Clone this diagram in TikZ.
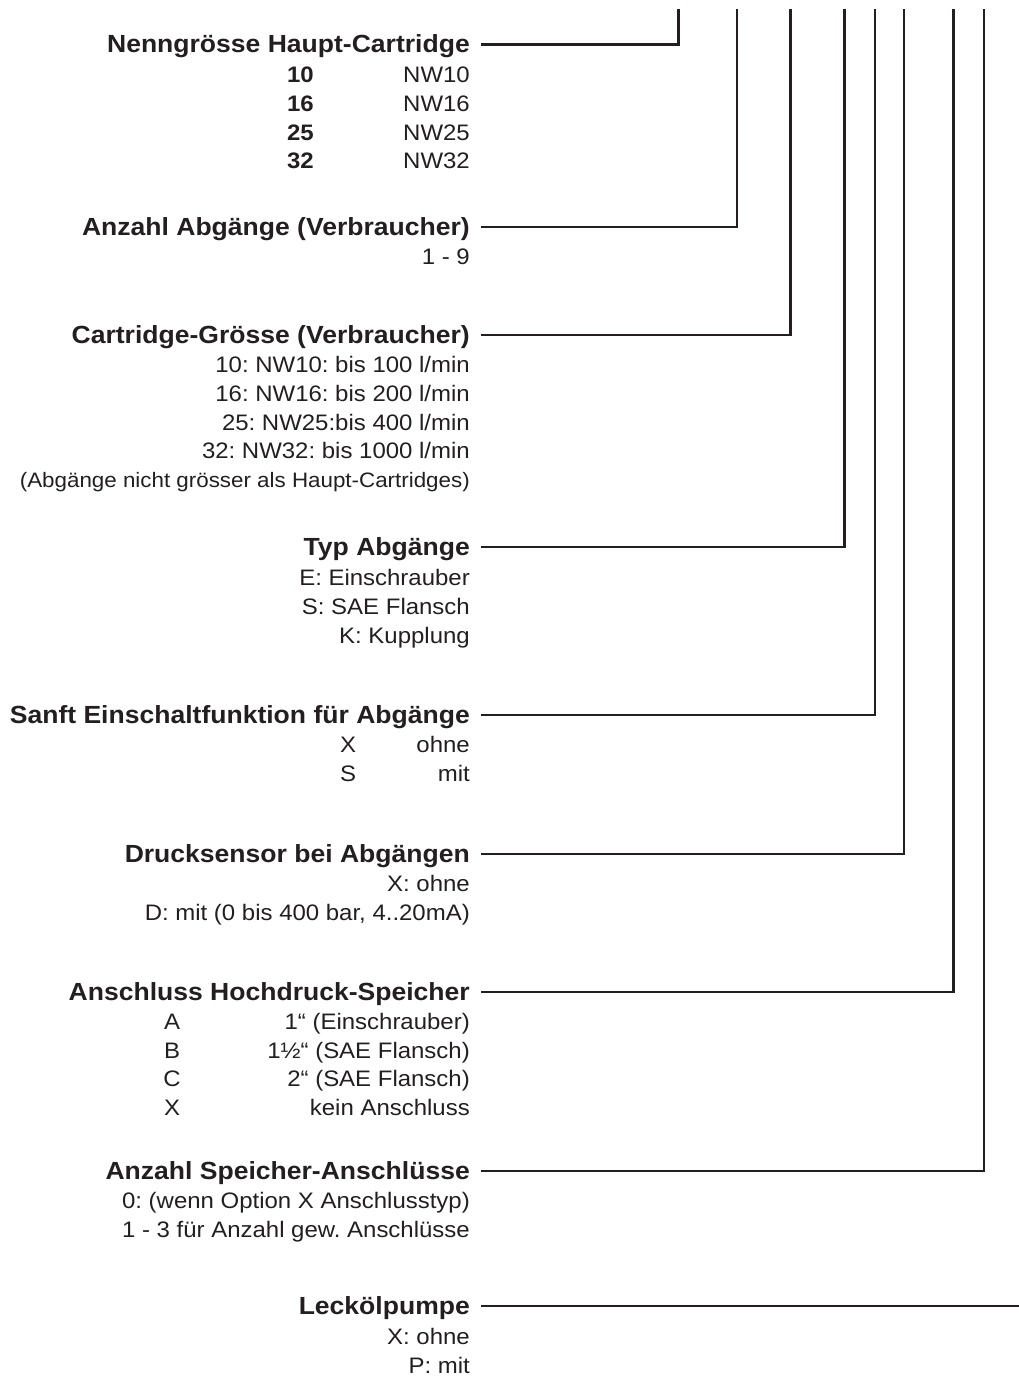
\documentclass[tikz,border=0pt]{standalone}
\usepackage{fontspec}
\setmainfont[FakeStretch=1.07]{Liberation Sans}
\definecolor{ink}{HTML}{231F20}
\frenchspacing
\begin{document}
\begin{tikzpicture}[x=1pt,y=-1pt,
  title/.style={anchor=base east,inner sep=0pt,text=ink,font=\bfseries\fontsize{24.8}{28}\selectfont},
  item/.style={anchor=base east,inner sep=0pt,text=ink,font=\fontsize{22.4}{26}\selectfont},
  itemL/.style={anchor=base,inner sep=0pt,text=ink,font=\fontsize{22.4}{26}\selectfont},
  note/.style={anchor=base east,inner sep=0pt,text=ink,font=\fontsize{20.9}{24}\selectfont},
  bnum/.style={anchor=base east,inner sep=0pt,text=ink,font=\bfseries\fontsize{22.4}{26}\selectfont},
  conn/.style={draw=ink,line width=2.3pt,line join=miter}]
\useasboundingbox (0,0) rectangle (1019,1381);
% top ends of the connector lines
\coordinate (t1) at (678.5,9);
\coordinate (t2) at (737,9);
\coordinate (t3) at (790.5,9);
\coordinate (t4) at (844.5,9);
\coordinate (t5) at (875,9);
\coordinate (t6) at (904,9);
\coordinate (t7) at (953.5,9);
\coordinate (t8) at (984,9);
\coordinate (t9) at (1022,1306);
% 1
\node[title] (n1) at (470,52.5) {Nenngrösse Haupt-Cartridge};
\node[bnum] (n1a) at (314,82.5) {10};  \node[item] (n1b) at (470,82.5) {NW10};
\node[bnum] (n1c) at (314,111.3) {16}; \node[item] (n1d) at (470,111.3) {NW16};
\node[bnum] (n1e) at (314,140) {25};   \node[item] (n1f) at (470,140) {NW25};
\node[bnum] (n1g) at (314,168.7) {32}; \node[item] (n1h) at (470,168.7) {NW32};
% 2
\node[title] (n2) at (470,235) {Anzahl Abgänge (Verbraucher)};
\node[item] (n2a) at (470,264) {1 - 9};
% 3
\node[title] (n3) at (470,343) {Cartridge-Grösse (Verbraucher)};
\node[item] (n3a) at (470,372) {10: NW10: bis 100 l/min};
\node[item] (n3b) at (470,401) {16: NW16: bis 200 l/min};
\node[item] (n3c) at (470,430) {25: NW25:bis 400 l/min};
\node[item] (n3d) at (470,458.5) {32: NW32: bis 1000 l/min};
\node[note] (n3e) at (470,487) {(Abgänge nicht grösser als Haupt-Cartridges)};
% 4
\node[title] (n4) at (470,555) {Typ Abgänge};
\node[item] (n4a) at (470,585) {E: Einschrauber};
\node[item] (n4b) at (470,614) {S: SAE Flansch};
\node[item] (n4c) at (470,643) {K: Kupplung};
% 5
\node[title] (n5) at (470,723) {Sanft Einschaltfunktion für Abgänge};
\node[itemL] (n5a) at (348,752.5) {X}; \node[item] (n5b) at (470,752.5) {ohne};
\node[itemL] (n5c) at (348,781.5) {S}; \node[item] (n5d) at (470,781.5) {mit};
% 6
\node[title] (n6) at (470,862) {Drucksensor bei Abgängen};
\node[item] (n6a) at (470,891) {X: ohne};
\node[item] (n6b) at (470,920) {D: mit (0 bis 400 bar, 4..20mA)};
% 7
\node[title] (n7) at (470,1000) {Anschluss Hochdruck-Speicher};
\node[itemL] (n7a) at (172,1029) {A}; \node[item] (n7b) at (470,1029) {1“ (Einschrauber)};
\node[itemL] (n7c) at (172,1058) {B}; \node[item] (n7d) at (470,1058) {1½“ (SAE Flansch)};
\node[itemL] (n7e) at (172,1086.5) {C}; \node[item] (n7f) at (470,1086.5) {2“ (SAE Flansch)};
\node[itemL] (n7g) at (172,1115) {X}; \node[item] (n7h) at (470,1115) {kein Anschluss};
% 8
\node[title] (n8) at (470,1179) {Anzahl Speicher-Anschlüsse};
\node[item] (n8a) at (470,1208) {0: (wenn Option X Anschlusstyp)};
\node[item] (n8b) at (470,1237) {1 - 3 für Anzahl gew. Anschlüsse};
% 9
\node[title] (n9) at (470,1314) {Leckölpumpe};
\node[item] (n9a) at (470,1344) {X: ohne};
\node[item] (n9b) at (470,1373) {P: mit};
% connectors
\draw[conn] ([shift={(11pt,8pt)}]n1.base east) -| (t1);
\draw[conn] ([shift={(11pt,8pt)}]n2.base east) -| (t2);
\draw[conn] ([shift={(11pt,8pt)}]n3.base east) -| (t3);
\draw[conn] ([shift={(11pt,8pt)}]n4.base east) -| (t4);
\draw[conn] ([shift={(11pt,8pt)}]n5.base east) -| (t5);
\draw[conn] ([shift={(11pt,8pt)}]n6.base east) -| (t6);
\draw[conn] ([shift={(11pt,8pt)}]n7.base east) -| (t7);
\draw[conn] ([shift={(11pt,8pt)}]n8.base east) -| (t8);
\draw[conn] ([shift={(11pt,8pt)}]n9.base east) -- (t9);
\end{tikzpicture}
\end{document}
